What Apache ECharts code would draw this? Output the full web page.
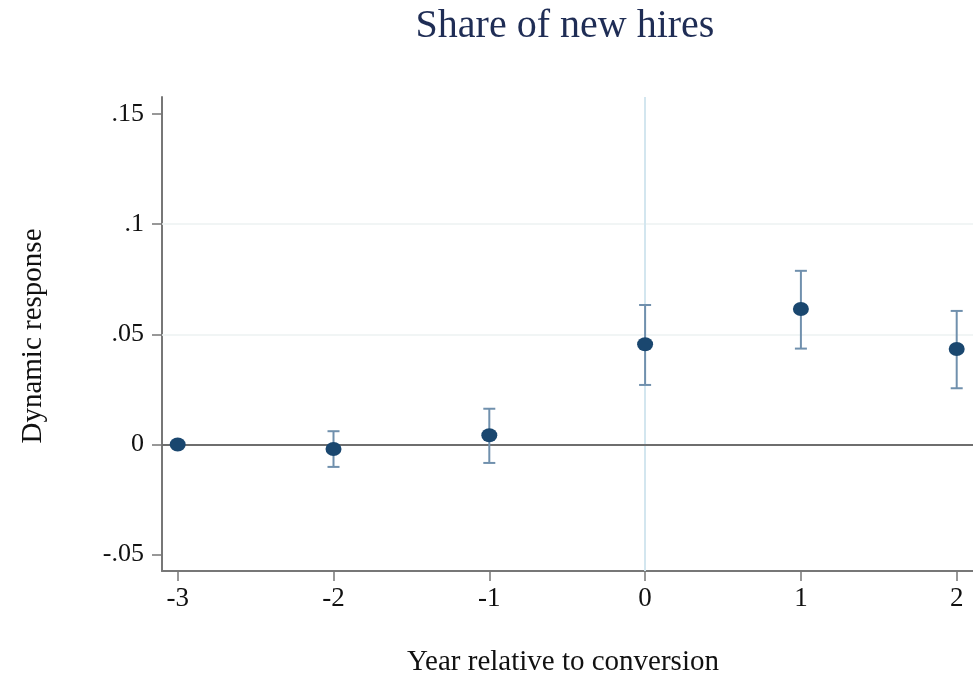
<!DOCTYPE html>
<html>
<head>
<meta charset="utf-8">
<script src="https://cdn.jsdelivr.net/npm/echarts@6/dist/echarts.min.js"></script>
<style>
  html, body { margin: 0; padding: 0; background: #ffffff; }
  #chart { width: 973px; height: 675px; }
</style>
</head>
<body>
<div id="chart"></div>
<script>
// Event-study estimates: year relative to conversion
const years  = [-3, -2, -1, 0, 1, 2];
const coef   = [0, -0.0021, 0.0042, 0.0455, 0.0615, 0.0433];
const ciLow  = [null, -0.0102, -0.0084, 0.0270, 0.0435, 0.0255];
const ciHigh = [null, 0.0060, 0.0162, 0.0633, 0.0788, 0.0606];

const xTicks = [-3, -2, -1, 0, 1, 2];
const yTicks = [-0.05, 0, 0.05, 0.1, 0.15];
const yGrid  = [0.05, 0.1];

const SERIF = '"Liberation Serif", "Times New Roman", serif';

function fmtY(v) {
  if (Math.abs(v) < 1e-9) return '0';
  let s = String(Math.round(v * 1000) / 1000);
  return s.replace(/^(-?)0\./, '$1.');
}

const chart = echarts.init(document.getElementById('chart'));

const pointData = years.map((x, i) => [x, coef[i]]);
const barData = years
  .map((x, i) => [x, ciLow[i], ciHigh[i]])
  .filter(d => d[1] !== null && d[2] !== null);

chart.setOption({
  animation: false,
  backgroundColor: '#ffffff',
  grid: { left: 162, right: 0, top: 97, bottom: 104 },
  xAxis: {
    type: 'value',
    min: -3.1008,
    max: 2.1046,
    axisLine: { show: true, onZero: false, lineStyle: { color: '#777777', width: 2 } },
    axisTick: { show: true, customValues: xTicks, length: 10, lineStyle: { color: '#777777', width: 1.5 } },
    axisLabel: {
      customValues: xTicks,
      formatter: v => String(v),
      margin: 14,
      fontFamily: SERIF, fontSize: 27, color: '#111111'
    },
    splitLine: { show: false }
  },
  yAxis: {
    type: 'value',
    min: -0.05745,
    max: 0.1577,
    axisLine: { show: true, onZero: false, lineStyle: { color: '#777777', width: 2 } },
    axisTick: { show: true, customValues: yTicks, length: 10, lineStyle: { color: '#777777', width: 1.5 } },
    axisLabel: {
      customValues: yTicks,
      formatter: fmtY,
      margin: 18,
      fontFamily: SERIF, fontSize: 26, color: '#111111'
    },
    splitLine: { show: false }
  },
  graphic: [
    {
      type: 'text', x: 565, y: 26,
      style: { text: 'Share of new hires', font: '40px ' + SERIF, fill: '#1f2d55',
               textAlign: 'center', textVerticalAlign: 'middle' }
    },
    {
      type: 'text', x: 563, y: 662,
      style: { text: 'Year relative to conversion', font: '29px ' + SERIF, fill: '#111111',
               textAlign: 'center', textVerticalAlign: 'middle' }
    },
    {
      type: 'text', x: 33, y: 336, rotation: Math.PI / 2,
      style: { text: 'Dynamic response', font: '29px ' + SERIF, fill: '#111111',
               textAlign: 'center', textVerticalAlign: 'middle' }
    }
  ],
  series: [
    {
      // reference lines: gridlines, zero line, conversion year
      type: 'line',
      data: [],
      silent: true,
      z: 1,
      markLine: {
        silent: true,
        symbol: 'none',
        label: { show: false },
        data: [
          ...yGrid.map(v => ({ yAxis: v, lineStyle: { color: '#edf2f2', width: 1.5, type: 'solid' } })),
          { xAxis: 0, lineStyle: { color: '#d3e6ef', width: 2, type: 'solid' } },
          { yAxis: 0, lineStyle: { color: '#6e6e6e', width: 2, type: 'solid' } }
        ]
      }
    },
    {
      // confidence intervals with caps
      type: 'custom',
      zlevel: 1,
      z: 3,
      data: barData,
      renderItem: function (params, api) {
        const x = api.value(0);
        const lo = api.coord([x, api.value(1)]);
        const hi = api.coord([x, api.value(2)]);
        const cap = 6;
        const style = { stroke: '#7090ad', lineWidth: 2, fill: 'none' };
        return {
          type: 'group',
          children: [
            { type: 'line', shape: { x1: lo[0], y1: lo[1], x2: hi[0], y2: hi[1] }, style },
            { type: 'line', shape: { x1: hi[0] - cap, y1: hi[1], x2: hi[0] + cap, y2: hi[1] }, style },
            { type: 'line', shape: { x1: lo[0] - cap, y1: lo[1], x2: lo[0] + cap, y2: lo[1] }, style }
          ]
        };
      }
    },
    {
      // point estimates
      type: 'scatter',
      zlevel: 1,
      z: 4,
      data: pointData,
      symbol: 'circle',
      symbolSize: [16, 14],
      itemStyle: { color: '#1a476f', opacity: 1 }
    }
  ]
});
</script>
</body>
</html>
